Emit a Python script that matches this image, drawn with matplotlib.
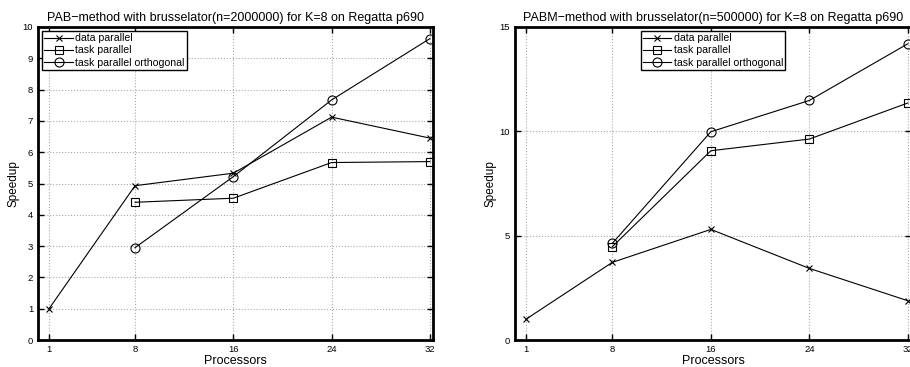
import numpy as np
import matplotlib
matplotlib.use("Agg")
import matplotlib.pyplot as plt

plt.rcParams['font.family'] = ['Liberation Sans', 'DejaVu Sans']

# Daten: links PAB (n=2000000), rechts PABM (n=500000)
procs = [1, 8, 16, 24, 32]
procs_tp = [8, 16, 24, 32]

pab_data = [1.0, 4.93, 5.33, 7.12, 6.45]
pab_task = [4.40, 4.53, 5.67, 5.70]
pab_orth = [2.95, 5.22, 7.67, 9.63]

pabm_data = [1.0, 3.72, 5.30, 3.43, 1.88]
pabm_task = [4.47, 9.07, 9.63, 11.36]
pabm_orth = [4.63, 9.98, 11.48, 14.20]

titles = ["PAB\u2212method with brusselator(n=2000000) for K=8 on Regatta p690",
          "PABM\u2212method with brusselator(n=500000) for K=8 on Regatta p690"]
labels = ["data parallel", "task parallel", "task parallel orthogonal"]

W, H = 910, 367
fig = plt.figure(figsize=(W / 100, H / 100), dpi=100)

def px_axes(l, r, t, b):
    return fig.add_axes([l / W, 1 - b / H, (r - l) / W, (b - t) / H])

ax1 = px_axes(38, 433, 27, 340)
ax2 = px_axes(515, 911, 27, 340)

def zeichne(ax, data, task, orth, ymax, yticks, title, loc):
    ax.plot(procs, data, 'k-', marker='x', ms=4.5, mew=0.8, lw=0.8, label=labels[0])
    ax.plot(procs_tp, task, 'k-', marker='s', ms=5.2, mfc='none', mew=0.8, lw=0.8, label=labels[1])
    ax.plot(procs_tp, orth, 'k-', marker='o', ms=6.5, mfc='none', mew=0.8, lw=0.8, label=labels[2])
    ax.set_xlim(0.1, 32.25)
    ax.set_ylim(0, ymax)
    ax.set_xticks(procs)
    ax.set_yticks(yticks)
    ax.tick_params(direction='in', length=4, width=1, labelsize=6.8, top=True, right=True, pad=3.5)
    ax.grid(True, color='#aaaaaa', linestyle=':', linewidth=0.8)
    for s in ax.spines.values():
        s.set_linewidth(2)
    ax.set_title(title, fontsize=9, pad=4)
    ax.set_xlabel("Processors", fontsize=9, labelpad=0.5)
    ax.set_ylabel("Speedup", fontsize=8.5, labelpad=2)
    leg = ax.legend(loc=loc, fontsize=7.6, fancybox=False, framealpha=1, edgecolor='k',
                    borderpad=0.2, labelspacing=0.2, handlelength=2.7, handletextpad=0.25,
                    borderaxespad=0.4)
    leg.get_frame().set_linewidth(1.0)

zeichne(ax1, pab_data, pab_task, pab_orth, 10, range(0, 11), titles[0], 'upper left')
zeichne(ax2, pabm_data, pabm_task, pabm_orth, 15, [0, 5, 10, 15], titles[1], 'upper center')

fig.savefig("out.png", dpi=100)
